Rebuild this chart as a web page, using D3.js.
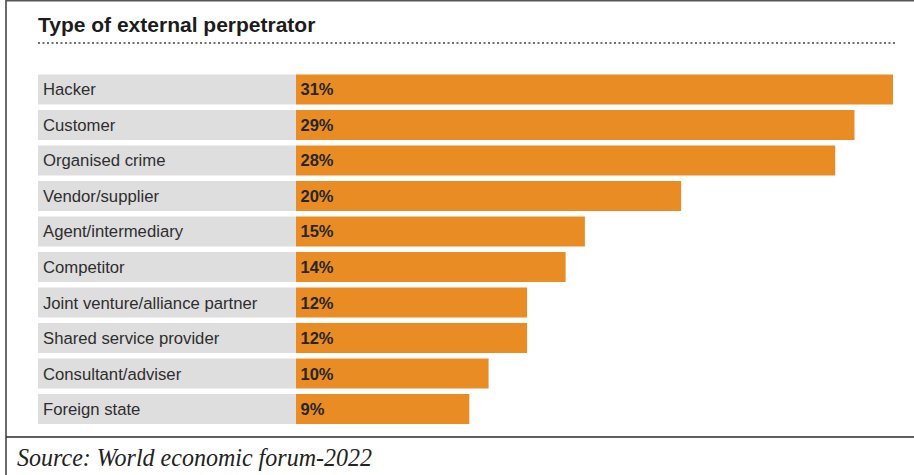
<!DOCTYPE html>
<html><head><meta charset="utf-8">
<script src="https://cdn.jsdelivr.net/npm/d3@7"></script>
<style>html,body{margin:0;padding:0;background:#fff;}svg{display:block;}</style>
</head><body>
<script>
const title = "Type of external perpetrator";
const source = "Source: World economic forum-2022";
const categories = ["Hacker","Customer","Organised crime","Vendor/supplier","Agent/intermediary","Competitor","Joint venture/alliance partner","Shared service provider","Consultant/adviser","Foreign state"];
const values = [31,29,28,20,15,14,12,12,10,9];

const W = 914, H = 475;
const svg = d3.select("body").append("svg").attr("width", W).attr("height", H);

// frame
svg.append("line").attr("x1",6).attr("x2",6).attr("y1",0).attr("y2",H).attr("stroke","#3a3a3a").attr("stroke-width",1.5);
svg.append("line").attr("x1",6).attr("x2",W).attr("y1",0.75).attr("y2",0.75).attr("stroke","#555").attr("stroke-width",1.5);
svg.append("line").attr("x1",6).attr("x2",W).attr("y1",437).attr("y2",437).attr("stroke","#2a2a2a").attr("stroke-width",1.6);

// title
svg.append("text").attr("x",38).attr("y",31.5).text(title)
  .attr("font-family","'Liberation Sans', Arial, sans-serif").attr("font-weight","bold")
  .attr("font-size",21).attr("fill","#1c1c1c");
svg.append("line").attr("x1",38).attr("x2",895).attr("y1",43).attr("y2",43)
  .attr("stroke","#6f6f6f").attr("stroke-width",2).attr("stroke-dasharray","2,2.5");

const y = d3.scaleBand().domain(categories).range([74.5, 424]).paddingInner(0.155).paddingOuter(0);
const x = d3.scaleLinear().domain([0, 31]).range([296, 893]);

const rows = svg.append("g").selectAll("g").data(categories.map((c,i)=>({c, v: values[i]}))).join("g");
rows.append("rect").attr("x",38).attr("width",x(0)-38).attr("y",d=>y(d.c)).attr("height",y.bandwidth()).attr("fill","#dedede");
rows.append("rect").attr("x",x(0)).attr("width",d=>x(d.v)-x(0)).attr("y",d=>y(d.c)).attr("height",y.bandwidth()).attr("fill","#e98c24");
rows.append("text").attr("x",43).attr("y",d=>y(d.c)+y.bandwidth()/2+6).text(d=>d.c)
  .attr("font-family","'Liberation Sans', Arial, sans-serif").attr("font-size",16.7).attr("fill","#2e2e2e");
rows.append("text").attr("x",300.5).attr("y",d=>y(d.c)+y.bandwidth()/2+6).text(d=>d.v+"%")
  .attr("font-family","'Liberation Sans', Arial, sans-serif").attr("font-weight","bold").attr("font-size",16.5).attr("fill","#262626");

// source
svg.append("text").attr("x",17).attr("y",466).text(source)
  .attr("font-family","'Liberation Serif', 'Times New Roman', serif").attr("font-style","italic")
  .attr("font-size",26).attr("fill","#222")
  .attr("textLength",355).attr("lengthAdjust","spacingAndGlyphs");
</script>
</body></html>
